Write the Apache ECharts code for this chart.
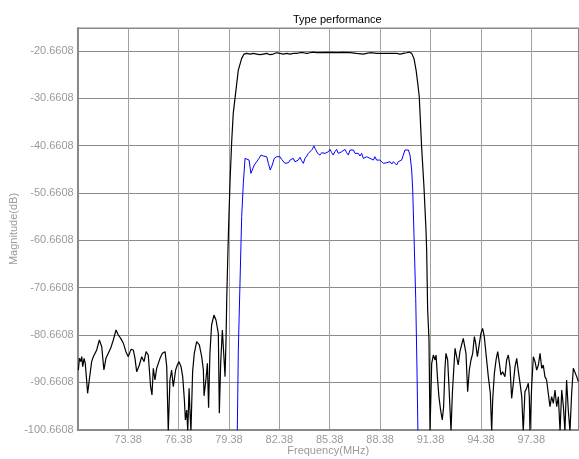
<!DOCTYPE html>
<html>
<head>
<meta charset="utf-8">
<script src="https://cdn.jsdelivr.net/npm/echarts@6/dist/echarts.min.js"></script>
<style>
html,body{margin:0;padding:0;background:#fff;}
#chart{width:579px;height:459px;}
</style>
</head>
<body>
<div id="chart"></div>
<script>
var chartTitle = 'Type performance';
var xName = 'Frequency(MHz)';
var yName = 'Magnitude(dB)';
var xTicks = [73.38, 76.38, 79.38, 82.38, 85.38, 88.38, 91.38, 94.38, 97.38];
var yTicks = [-100.6608, -90.6608, -80.6608, -70.6608, -60.6608, -50.6608, -40.6608, -30.6608, -20.6608];

var blackFreq = [70.42,70.48,70.56,70.62,70.68,70.76,70.83,70.91,70.97,71.07,71.21,71.31,71.41,71.51,71.67,71.81,71.94,72.06,72.20,72.34,72.50,72.66,72.80,72.94,73.10,73.25,73.39,73.55,73.69,73.79,73.89,74.05,74.19,74.33,74.45,74.58,74.72,74.80,74.88,74.98,75.08,75.18,75.28,75.42,75.58,75.68,75.77,75.87,75.97,76.07,76.21,76.31,76.41,76.53,76.63,76.73,76.79,76.87,76.93,77.01,77.06,77.12,77.22,77.32,77.46,77.62,77.76,77.86,77.90,78.02,78.10,78.17,78.25,78.35,78.49,78.61,78.75,78.81,78.89,78.99,79.09,79.15,79.21,79.25,79.30,79.36,79.45,79.55,79.64,79.80,79.94,80.14,80.28,80.44,80.64,80.83,81.03,81.23,81.43,81.63,81.83,82.02,82.22,82.42,82.62,82.82,83.02,83.22,83.41,83.61,83.81,84.01,84.21,84.41,84.60,85.00,85.40,85.79,86.19,86.59,86.98,87.38,87.58,87.78,88.18,88.57,88.97,89.37,89.56,89.76,89.96,90.10,90.26,90.40,90.52,90.62,90.71,90.85,90.99,91.11,91.15,91.21,91.29,91.35,91.45,91.55,91.65,91.71,91.79,91.88,91.98,92.08,92.16,92.24,92.30,92.40,92.48,92.60,92.68,92.76,92.84,92.94,93.03,93.13,93.23,93.33,93.43,93.49,93.59,93.69,93.79,93.89,93.99,94.07,94.17,94.29,94.38,94.48,94.58,94.68,94.82,94.94,95.02,95.08,95.18,95.28,95.38,95.48,95.57,95.67,95.81,95.91,96.01,96.11,96.21,96.31,96.41,96.51,96.61,96.71,96.81,96.90,97.00,97.10,97.20,97.26,97.30,97.40,97.50,97.60,97.70,97.80,97.90,98.00,98.09,98.19,98.29,98.39,98.49,98.59,98.69,98.79,98.89,98.99,99.09,99.19,99.29,99.38,99.48,99.58,99.68,99.78,99.88,99.98,100.08,100.18];
var blackMag = [-88.05,-85.58,-86.28,-85.23,-87.34,-85.58,-86.64,-90.16,-92.97,-90.16,-86.28,-85.23,-85.58,-83.82,-81.71,-83.12,-88.05,-85.58,-84.52,-83.47,-81.71,-79.60,-80.65,-81.36,-82.41,-84.17,-85.23,-83.68,-83.82,-85.58,-88.40,-86.99,-85.23,-86.28,-84.17,-84.88,-91.57,-93.33,-87.69,-90.16,-87.69,-86.64,-85.58,-84.52,-84.17,-87.34,-101,-90.16,-88.05,-91.57,-88.05,-86.99,-86.28,-87.34,-89.45,-94.38,-98.61,-96.49,-101,-91.92,-96.49,-101,-88.40,-84.52,-82.06,-82.76,-85.23,-88.05,-93.5,-89.8,-86.64,-96.0,-84.52,-78.54,-76.43,-77.48,-80.30,-97.2,-86.64,-79.60,-79.24,-89.45,-81.36,-73.26,-66,-58,-47.91,-39.46,-33.76,-28.90,-24.67,-22.20,-21.29,-21.15,-21.29,-21.15,-21.29,-21.43,-21.29,-21.15,-21.43,-21.29,-21.01,-21.15,-21.29,-21.15,-21.29,-21.15,-21.15,-21.01,-21.01,-21.15,-21.01,-20.87,-21.01,-21.01,-20.94,-21.01,-20.94,-21.01,-21.15,-21.29,-21.15,-21.01,-21.15,-21.15,-21.15,-21.15,-21.29,-21.15,-21.01,-20.87,-21.15,-22.3,-24.67,-27.5,-30.31,-40.88,-49.33,-58.47,-62.70,-75.37,-81.71,-101,-86.64,-84.88,-85.93,-84.88,-89.45,-93.68,-96.49,-98.61,-95.79,-87.69,-84.52,-85.93,-91.57,-101,-92.97,-88.05,-83.47,-83.82,-86.99,-84.17,-82.76,-81.36,-81.71,-84.52,-92.62,-88.05,-85.93,-84.52,-81.00,-82.41,-85.23,-82.41,-80.30,-79.24,-81.00,-84.52,-89.45,-92.97,-101,-94.38,-88.75,-85.93,-84.17,-86.64,-89.10,-88.40,-89.45,-85.93,-84.88,-87.34,-94.03,-90.86,-87.34,-85.58,-88.40,-90.86,-93.68,-101,-92.62,-91.92,-90.86,-93.68,-101,-91.57,-85.23,-86.28,-88.05,-86.99,-84.52,-87.69,-86.99,-89.45,-90.16,-92.97,-95.79,-93.68,-95.09,-92.27,-95.79,-93.68,-101,-92.27,-95.79,-101,-90.16,-96.49,-101,-92.97,-87.69,-87.34,-89.45,-90.51];

var blueFreq = [79.88,79.94,80.04,80.14,80.24,80.34,80.44,80.58,80.69,80.77,80.89,81.03,81.17,81.29,81.43,81.53,81.63,81.73,81.84,81.96,82.08,82.22,82.32,82.42,82.52,82.62,82.72,82.82,82.92,83.02,83.11,83.21,83.31,83.41,83.51,83.61,83.71,83.81,83.91,84.01,84.11,84.21,84.34,84.44,84.54,84.66,84.80,84.90,85.00,85.10,85.20,85.30,85.40,85.50,85.59,85.69,85.79,85.89,85.99,86.09,86.19,86.29,86.39,86.49,86.59,86.69,86.79,86.89,86.98,87.08,87.18,87.28,87.38,87.48,87.58,87.68,87.78,87.88,87.98,88.07,88.17,88.27,88.37,88.47,88.57,88.67,88.77,88.87,88.97,89.07,89.17,89.27,89.36,89.46,89.56,89.66,89.76,89.86,89.96,90.06,90.16,90.26,90.32,90.40,90.50,90.57,90.63];
var blueMag = [-101,-83.82,-69.67,-55.66,-48.5,-43.33,-43.12,-43.69,-46.50,-46.15,-44.74,-44.04,-43.33,-42.63,-42.84,-42.42,-42.98,-44.39,-45.80,-44.74,-43.33,-42.98,-42.63,-42.98,-43.54,-43.69,-44.39,-44.74,-44.25,-43.69,-43.83,-43.33,-44.04,-44.39,-43.69,-43.12,-43.83,-44.39,-43.33,-42.84,-42.28,-41.93,-41.43,-40.73,-41.43,-42.28,-42.63,-42.14,-41.93,-42.28,-42.63,-41.93,-41.43,-42.14,-42.63,-41.93,-41.43,-42.28,-42.63,-41.93,-41.57,-41.43,-42.14,-42.63,-41.57,-41.22,-41.57,-42.28,-41.93,-42.28,-42.84,-42.28,-43.33,-43.69,-42.98,-42.63,-43.33,-43.33,-43.69,-42.98,-43.69,-43.33,-43.69,-44.04,-44.39,-44.74,-44.25,-44.39,-44.04,-44.53,-44.04,-44.39,-44.74,-44.04,-44.39,-43.69,-42.63,-41.57,-41.43,-41.57,-42.63,-45.80,-50,-60,-73,-87,-101];

function pairs(xs, ys) { return xs.map(function (x, i) { return [x, ys[i]]; }); }

var chart = echarts.init(document.getElementById('chart'), null, {renderer: 'canvas'});
var labelStyle = {color: '#9a9a9a', fontFamily: 'Liberation Sans', fontSize: 11};
chart.setOption({
  animation: false,
  backgroundColor: '#ffffff',
  title: {
    text: chartTitle, left: 288, top: 9,
    textStyle: {color: '#000', fontFamily: 'Liberation Sans', fontSize: 11, fontWeight: 'normal'}
  },
  grid: {left: 77.7, right: 0.3, top: 28.3, bottom: 29.3, show: true, borderColor: '#8a8a8a', borderWidth: 1.5,
         containLabel: false, outerBoundsMode: 'none'},
  xAxis: {
    type: 'value', min: 70.38, max: 100.2,
    name: xName, nameLocation: 'middle', nameGap: 16, nameMoveOverlap: false,
    nameTextStyle: labelStyle,
    axisLine: {show: true, onZero: false, lineStyle: {color: '#8a8a8a', width: 2}},
    axisTick: {show: false, customValues: xTicks},
    axisLabel: Object.assign({customValues: xTicks, margin: 5, formatter: function (v) { return v.toFixed(2); }}, labelStyle),
    splitLine: {show: true, lineStyle: {color: '#a0a0a0', width: 1}}
  },
  yAxis: {
    type: 'value', min: -100.6608, max: -15.85,
    name: yName, nameLocation: 'middle', nameGap: 58, nameMoveOverlap: false,
    nameTextStyle: labelStyle,
    axisLine: {show: true, onZero: false, lineStyle: {color: '#8a8a8a', width: 2}},
    axisTick: {show: false, customValues: yTicks},
    axisLabel: Object.assign({customValues: yTicks, margin: 4, formatter: function (v) { return v.toFixed(4); }}, labelStyle),
    splitLine: {show: true, lineStyle: {color: '#8a8a8a', width: 1}}
  },
  series: [
    {type: 'line', data: pairs(blackFreq, blackMag), showSymbol: false, clip: true,
     lineStyle: {color: '#000000', width: 1.2}, itemStyle: {color: '#000'}},
    {type: 'line', data: pairs(blueFreq, blueMag), showSymbol: false, clip: true,
     lineStyle: {color: '#0000ff', width: 1}, itemStyle: {color: '#00f'}}
  ]
});
</script>
</body>
</html>
